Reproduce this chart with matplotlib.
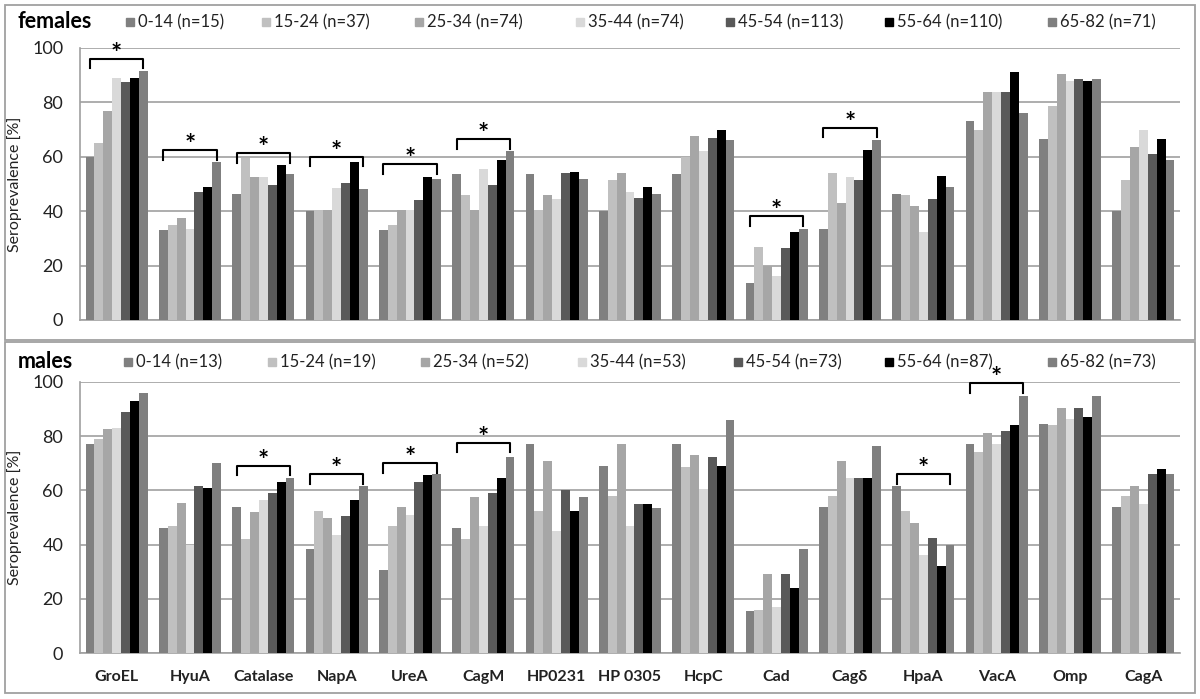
import numpy as np
import matplotlib.pyplot as plt
from matplotlib.patches import Rectangle

plt.rcParams['font.family'] = ['Lato', 'DejaVu Sans']

ANTIGENS = ["GroEL", "HyuA", "Catalase", "NapA", "UreA", "CagM", "HP0231", "HP 0305",
            "HcpC", "Cad", "Cagδ", "HpaA", "VacA", "Omp", "CagA"]
AGES = ["0-14", "15-24", "25-34", "35-44", "45-54", "55-64", "65-82"]
N_FEMALES = [15, 37, 74, 74, 113, 110, 71]
N_MALES = [13, 19, 52, 53, 73, 87, 73]
COLORS = ["#808080", "#c0c0c0", "#a6a6a6", "#d9d9d9", "#595959", "#000000", "#7f7f7f"]

# seroprevalence [%], rows = antigens, columns = age groups
females = [
    [60, 65, 77, 89, 87.5, 89, 91.5],
    [33, 35, 37.5, 33.5, 47, 49, 58],
    [46.5, 59.5, 52.5, 52.5, 49.5, 57, 53.5],
    [40, 40.5, 40.5, 48.5, 50.5, 58, 48],
    [33, 35, 40.5, 40.5, 44, 52.5, 52],
    [53.5, 46, 40.5, 55.5, 49.5, 59, 62],
    [53.5, 40.5, 46, 44.5, 54, 54.5, 52],
    [40, 51.5, 54, 47, 45, 49, 46.5],
    [53.5, 60, 67.5, 62, 67, 70, 66],
    [13.5, 27, 20, 16, 26.5, 32.5, 33.5],
    [33.5, 54, 43, 52.5, 51.5, 62.5, 66],
    [46.5, 46, 42, 32.5, 44.5, 53, 49],
    [73, 70, 84, 84, 84, 91, 76],
    [66.5, 78.5, 90.5, 88, 88.5, 88, 88.5],
    [40, 51.5, 63.5, 70, 61, 66.5, 59],
]
males = [
    [77, 79, 82.5, 83, 89, 93, 96],
    [46, 47, 55.5, 40, 61.5, 61, 70],
    [54, 42, 52, 56.5, 59, 63, 64.5],
    [38.5, 52.5, 50, 43.5, 50.5, 56.5, 61.5],
    [30.5, 47, 54, 51, 63, 65.5, 66],
    [46, 42, 57.5, 47, 59, 64.5, 72.5],
    [77, 52.5, 71, 45, 60, 52.5, 57.5],
    [69, 58, 77, 47, 55, 55, 53.5],
    [77, 68.5, 73, 60.5, 72.5, 69, 86],
    [15.5, 16, 29, 17, 29, 24, 38.5],
    [54, 58, 71, 64.5, 64.5, 64.5, 76.5],
    [61.5, 52.5, 48, 36, 42.5, 32, 40],
    [77, 74, 81, 77, 82, 84, 95],
    [84.5, 84, 90.5, 86.5, 90.5, 87, 95],
    [54, 58, 61.5, 55, 66, 68, 66],
]
# significance brackets: (antigen index, bracket height)
SIG_FEMALES = [(0, 96), (1, 62.5), (2, 61.3), (3, 60), (4, 57.3), (5, 66.5), (9, 38.2), (10, 70.6)]
SIG_MALES = [(2, 69), (3, 66), (4, 70), (5, 77.5), (11, 66), (12, 99.6)]

W, H = 1200, 699
fig = plt.figure(figsize=(12, 6.99), dpi=100)
GRAY = "#a0a0a0"

# panel frames
fig.patches.append(Rectangle((5 / W, 1 - 340 / H), 1190 / W, 335 / H, transform=fig.transFigure,
                             fill=False, ec=GRAY, lw=1.3))
fig.patches.append(Rectangle((5 / W, 1 - 693 / H), 1190 / W, 351 / H, transform=fig.transFigure,
                             fill=False, ec=GRAY, lw=1.3))

panels = [
    ("females", females, N_FEMALES, SIG_FEMALES, 48, 320, 22, [126, 262, 415, 576, 726, 885, 1048]),
    ("males", males, N_MALES, SIG_MALES, 382, 653, 362, [124, 268, 421, 578, 734, 885, 1048]),
]

x = np.arange(len(ANTIGENS))
bw = 0.121

for title, data, ns, sigs, ytop, ybot, ytitle, legx in panels:
    ax = fig.add_axes([80 / W, 1 - ybot / H, 1100 / W, (ybot - ytop) / H])
    vals = np.array(data)
    for j in range(len(AGES)):
        ax.bar(x + (j - 3) * bw, vals[:, j], width=bw, color=COLORS[j], zorder=3)
    ax.set_xlim(-0.5, len(ANTIGENS) - 0.5)
    ax.set_ylim(0, 100)
    ax.set_yticks(range(0, 101, 20))
    ax.yaxis.grid(True, color=GRAY, lw=1.2, zorder=0)
    ax.set_axisbelow(True)
    for s in ["top", "right"]:
        ax.spines[s].set_visible(False)
    for s in ["left", "bottom"]:
        ax.spines[s].set_color(GRAY)
        ax.spines[s].set_linewidth(1.2)
    ax.tick_params(axis="y", length=0, labelsize=13, pad=12, colors="#222222")
    ax.set_ylabel("Seroprevalence [%]", fontsize=11.5, labelpad=7, color="#222222")
    if title == "males":
        ax.set_xticks(x)
        ax.set_xticklabels(ANTIGENS, fontweight="bold", fontsize=11.5)
        ax.tick_params(axis="x", length=0, pad=12, colors="#222222")
    else:
        ax.set_xticks([])

    for i, h in sigs:
        x0, x1 = i - 3 * bw, i + 3 * bw
        ax.plot([x0, x0, x1, x1], [h - 3.5, h, h, h - 3.5], color="black", lw=1.5, zorder=4,
                clip_on=False)
        ax.text(i, h - 2.5, "*", ha="center", va="bottom", fontsize=19, fontweight="bold",
                zorder=5, clip_on=False)

    fig.text(18 / W, 1 - ytitle / H, title, fontsize=15.5, fontweight="bold", va="center", ha="left")
    for k, (age, n) in enumerate(zip(AGES, ns)):
        lx = legx[k]
        fig.patches.append(Rectangle((lx / W, 1 - (ytitle + 4) / H), 8 / W, 8 / H,
                                     transform=fig.transFigure, color=COLORS[k]))
        fig.text((lx + 12) / W, 1 - ytitle / H, f"{age} (n={n})", fontsize=12, va="center",
                 ha="left", color="#222222")

fig.savefig("out.png", dpi=100)
